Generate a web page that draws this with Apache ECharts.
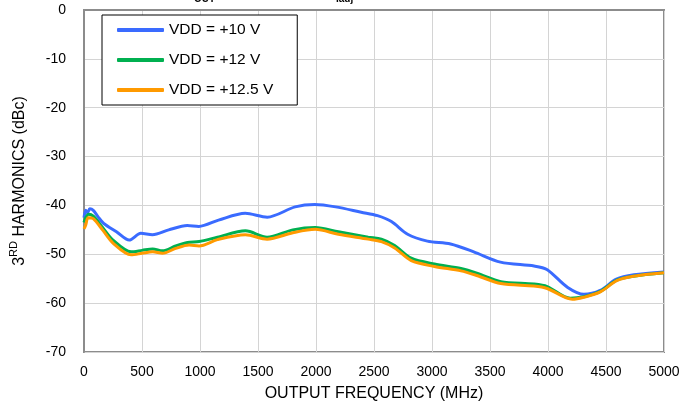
<!DOCTYPE html>
<html><head><meta charset="utf-8">
<script src="https://cdn.jsdelivr.net/npm/echarts@6/dist/echarts.min.js"></script>
<style>html,body{margin:0;padding:0;background:#fff}#c{width:698px;height:410px}</style>
</head><body><div id="c"></div>
<script>
const seriesNames = ['VDD = +10 V', 'VDD = +12 V', 'VDD = +12.5 V'];
const xTicks = [0, 500, 1000, 1500, 2000, 2500, 3000, 3500, 4000, 4500, 5000];
const yTicks = [0, -10, -20, -30, -40, -50, -60, -70];

const freq10 = [0, 15, 30, 50, 80, 120, 170, 280, 390, 490, 590, 730, 890, 990, 1160, 1390, 1580, 1820, 1990, 2170, 2390, 2530, 2650, 2790, 2960, 3160, 3360, 3590, 3880, 3990, 4170, 4310, 4450, 4590, 4740, 5000];
const vdd10  = [-42.5, -41.0, -41.5, -40.7, -41.0, -42.3, -43.7, -45.4, -47.1, -45.7, -46.0, -45.0, -44.1, -44.3, -43.0, -41.6, -42.4, -40.3, -39.8, -40.3, -41.4, -42.1, -43.3, -45.9, -47.3, -47.9, -49.5, -51.6, -52.4, -53.1, -56.8, -58.2, -57.4, -55.1, -54.2, -53.6];

const freq12 = [0, 15, 40, 80, 160, 250, 406, 500, 592, 677, 790, 892, 992, 1150, 1392, 1578, 1800, 1993, 2193, 2450, 2564, 2678, 2821, 3021, 3250, 3393, 3593, 3878, 3993, 4193, 4307, 4451, 4593, 4736, 5000];
const vdd12  = [-43.5, -42.5, -41.8, -42.2, -44.5, -47.1, -49.5, -49.2, -48.9, -49.3, -48.3, -47.6, -47.4, -46.5, -45.2, -46.5, -45.0, -44.5, -45.4, -46.5, -46.9, -48.2, -50.8, -52.0, -52.9, -53.9, -55.6, -56.1, -56.6, -59.0, -58.7, -57.6, -55.3, -54.5, -53.8];

const freq125 = [0, 15, 35, 80, 160, 250, 406, 500, 592, 677, 790, 906, 992, 1150, 1392, 1578, 1800, 1993, 2193, 2450, 2564, 2678, 2821, 3021, 3250, 3393, 3593, 3878, 3993, 4210, 4307, 4451, 4593, 4736, 5000];
const vdd125  = [-44.8, -44.0, -42.5, -42.7, -45.0, -47.7, -50.1, -49.8, -49.5, -49.8, -48.8, -48.1, -48.3, -47.0, -46.0, -46.9, -45.6, -44.9, -45.9, -46.9, -47.4, -48.7, -51.3, -52.5, -53.4, -54.4, -56.0, -56.5, -57.0, -59.2, -58.8, -57.7, -55.4, -54.5, -53.8];

const colors = ['#3a6bff', '#00b050', '#ff9a00'];
const zip = (xs, ys) => xs.map((x, i) => [x, ys[i]]);
const allData = [zip(freq10, vdd10), zip(freq12, vdd12), zip(freq125, vdd125)];

const chart = echarts.init(document.getElementById('c'));
const font = 'Arial, "Liberation Sans", sans-serif';
chart.setOption({
  animation: false,
  grid: { left: 81, right: 34, top: 10, bottom: 58, show: true, borderColor: '#8c8c8c', borderWidth: 2 },
  legend: {
    left: 102, top: 15, orient: 'vertical',
    data: seriesNames,
    icon: 'roundRect', itemWidth: 47, itemHeight: 4, itemGap: 14,
    padding: [7, 24, 7, 15],
    borderColor: '#000', borderWidth: 1, backgroundColor: '#fff',
    textStyle: { fontFamily: font, fontSize: 15.5, color: '#000' }
  },
  graphic: [
    { type: 'text', left: 194, top: -6, style: { text: 'OUT', font: 'bold 10px ' + font, fill: '#000' } },
    { type: 'text', left: 336, top: -6, style: { text: 'Iadj', font: 'bold 10px ' + font, fill: '#000' } }
  ],
  xAxis: {
    type: 'value', min: xTicks[0], max: xTicks[xTicks.length - 1], interval: 500,
    name: 'OUTPUT FREQUENCY (MHz)', nameLocation: 'middle', nameGap: 34,
    nameTextStyle: { fontFamily: font, fontSize: 16, color: '#000' },
    axisLine: { show: true, lineStyle: { color: '#8c8c8c', width: 2 } },
    axisTick: { show: false },
    axisLabel: { fontFamily: font, fontSize: 14, color: '#000', margin: 13, formatter: v => String(v) },
    splitLine: { show: true, lineStyle: { color: '#d4d4d4', width: 1 } }
  },
  yAxis: {
    type: 'value', min: yTicks[yTicks.length - 1], max: yTicks[0], interval: 10,
    name: '{a|3}{b|RD}{a| HARMONICS (dBc)}', nameLocation: 'middle', nameGap: 56,
    nameTextStyle: {
      fontFamily: font, fontSize: 16, color: '#000',
      rich: {
        a: { fontFamily: font, fontSize: 16, color: '#000', lineHeight: 20, verticalAlign: 'bottom' },
        b: { fontFamily: font, fontSize: 11, color: '#000', lineHeight: 20, verticalAlign: 'top', padding: [0, 0, 5, 0] }
      }
    },
    axisLine: { show: true, lineStyle: { color: '#8c8c8c', width: 2 } },
    axisTick: { show: false },
    axisLabel: { fontFamily: font, fontSize: 14, color: '#000', margin: 18 },
    splitLine: { show: true, lineStyle: { color: '#d4d4d4', width: 1 } }
  },
  series: seriesNames.map((n, i) => ({
    name: n, type: 'line', data: allData[i], smooth: 0.3, showSymbol: false,
    color: colors[i], lineStyle: { width: 3, color: colors[i] }
  }))
});
</script></body></html>
